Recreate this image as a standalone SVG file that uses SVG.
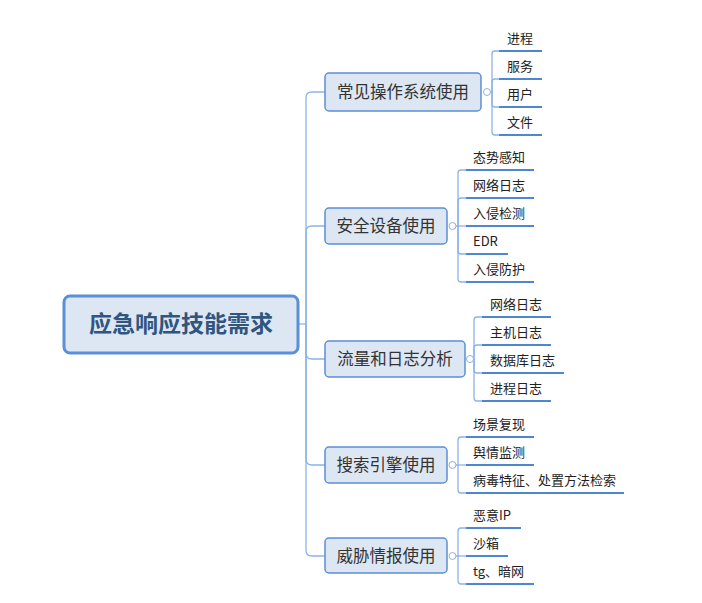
<svg xmlns="http://www.w3.org/2000/svg" width="702" height="603" viewBox="0 0 702 603">
<style>
text{font-family:"Noto Sans CJK SC","Liberation Sans",sans-serif;}
.root rect{fill:#dde7f3;stroke:#5b8fd8;stroke-width:3;}
.root text{font-size:23px;font-weight:bold;fill:#30557f;text-anchor:middle;}
.br rect{fill:#dde7f3;stroke:#5b8fd8;stroke-width:1.5;}
.br text{font-size:16.5px;fill:#333;text-anchor:middle;}
.br circle{fill:#fff;stroke:#8eb3e6;stroke-width:1;}
.conn path{fill:none;stroke:#8eb3e6;stroke-width:1.3;}
.leaf line{stroke:#4f86d1;stroke-width:2.2;}
.leaf text{font-size:13px;fill:#222;}
</style>
<rect width="702" height="603" fill="#fff"/>
<g id="connectors" class="conn">
<path d="M299 324 H306"/>
<path d="M306 324 V98 Q306 92 312 92 H325"/>
<path d="M306 324 V232 Q306 226 312 226 H325"/>
<path d="M306 324 V353 Q306 359 312 359 H325"/>
<path d="M306 324 V459 Q306 465 312 465 H325"/>
<path d="M306 324 V550 Q306 556 312 556 H325"/>
<path d="M490.5 92 H492 V54 Q492 51 495 51 H499"/>
<path d="M492 92 V82 Q492 79 495 79 H499"/>
<path d="M492 92 V104 Q492 107 495 107 H499"/>
<path d="M492 92 V132 Q492 135 495 135 H499"/>
<path d="M456 226 H458 V173 Q458 170 461 170 H466"/>
<path d="M458 226 V201 Q458 198 461 198 H466"/>
<path d="M458 226 H466"/>
<path d="M458 226 V251 Q458 254 461 254 H466"/>
<path d="M458 226 V279 Q458 282 461 282 H466"/>
<path d="M473.5 359 H474 V320 Q474 317 477 317 H482"/>
<path d="M474 359 V348 Q474 345 477 345 H482"/>
<path d="M474 359 V370 Q474 373 477 373 H482"/>
<path d="M474 359 V398 Q474 401 477 401 H482"/>
<path d="M456 465 H458 V440 Q458 437 461 437 H466"/>
<path d="M458 465 H466"/>
<path d="M458 465 V490 Q458 493 461 493 H466"/>
<path d="M456 556 H458 V531 Q458 528 461 528 H466"/>
<path d="M458 556 H466"/>
<path d="M458 556 V581 Q458 584 461 584 H466"/>
</g>
<g id="root" class="root">
<rect x="64" y="296" width="234" height="57" rx="6"/>
<text x="181" y="332">应急响应技能需求</text>
</g>
<g id="b1" class="br">
<rect x="325" y="73" width="156" height="38" rx="4"/>
<text x="403" y="98">常见操作系统使用</text>
<circle cx="487" cy="92" r="3.5"/>
</g>
<g id="b2" class="br">
<rect x="325" y="208" width="122" height="36" rx="4"/>
<text x="386" y="232">安全设备使用</text>
<circle cx="452.5" cy="226" r="3.5"/>
</g>
<g id="b3" class="br">
<rect x="325" y="341" width="140" height="36" rx="4"/>
<text x="395" y="365">流量和日志分析</text>
<circle cx="470" cy="359" r="3.5"/>
</g>
<g id="b4" class="br">
<rect x="325" y="447" width="122" height="36" rx="4"/>
<text x="386" y="471">搜索引擎使用</text>
<circle cx="452.5" cy="465" r="3.5"/>
</g>
<g id="b5" class="br">
<rect x="325" y="538" width="122" height="35" rx="4"/>
<text x="386" y="562">威胁情报使用</text>
<circle cx="452.5" cy="556" r="3.5"/>
</g>
<g id="l1a" class="leaf"><line x1="499" y1="51" x2="542" y2="51"/><text x="507" y="43">进程</text></g>
<g id="l1b" class="leaf"><line x1="499" y1="79" x2="542" y2="79"/><text x="507" y="71">服务</text></g>
<g id="l1c" class="leaf"><line x1="499" y1="107" x2="542" y2="107"/><text x="507" y="99">用户</text></g>
<g id="l1d" class="leaf"><line x1="499" y1="135" x2="542" y2="135"/><text x="507" y="127">文件</text></g>
<g id="l2a" class="leaf"><line x1="466" y1="170" x2="534" y2="170"/><text x="473" y="162">态势感知</text></g>
<g id="l2b" class="leaf"><line x1="466" y1="198" x2="534" y2="198"/><text x="473" y="190">网络日志</text></g>
<g id="l2c" class="leaf"><line x1="466" y1="226" x2="534" y2="226"/><text x="473" y="218">入侵检测</text></g>
<g id="l2d" class="leaf"><line x1="466" y1="254" x2="508" y2="254"/><text x="473" y="246">EDR</text></g>
<g id="l2e" class="leaf"><line x1="466" y1="282" x2="534" y2="282"/><text x="473" y="274">入侵防护</text></g>
<g id="l3a" class="leaf"><line x1="482" y1="317" x2="551" y2="317"/><text x="490" y="309">网络日志</text></g>
<g id="l3b" class="leaf"><line x1="482" y1="345" x2="551" y2="345"/><text x="490" y="337">主机日志</text></g>
<g id="l3c" class="leaf"><line x1="482" y1="373" x2="564" y2="373"/><text x="490" y="365">数据库日志</text></g>
<g id="l3d" class="leaf"><line x1="482" y1="401" x2="551" y2="401"/><text x="490" y="393">进程日志</text></g>
<g id="l4a" class="leaf"><line x1="466" y1="437" x2="534" y2="437"/><text x="473" y="429">场景复现</text></g>
<g id="l4b" class="leaf"><line x1="466" y1="465" x2="534" y2="465"/><text x="473" y="457">舆情监测</text></g>
<g id="l4c" class="leaf"><line x1="466" y1="493" x2="624" y2="493"/><text x="473" y="485">病毒特征、处置方法检索</text></g>
<g id="l5a" class="leaf"><line x1="466" y1="528" x2="521" y2="528"/><text x="473" y="520">恶意IP</text></g>
<g id="l5b" class="leaf"><line x1="466" y1="556" x2="508" y2="556"/><text x="473" y="548">沙箱</text></g>
<g id="l5c" class="leaf"><line x1="466" y1="584" x2="534" y2="584"/><text x="473" y="576">tg、暗网</text></g>
</svg>
